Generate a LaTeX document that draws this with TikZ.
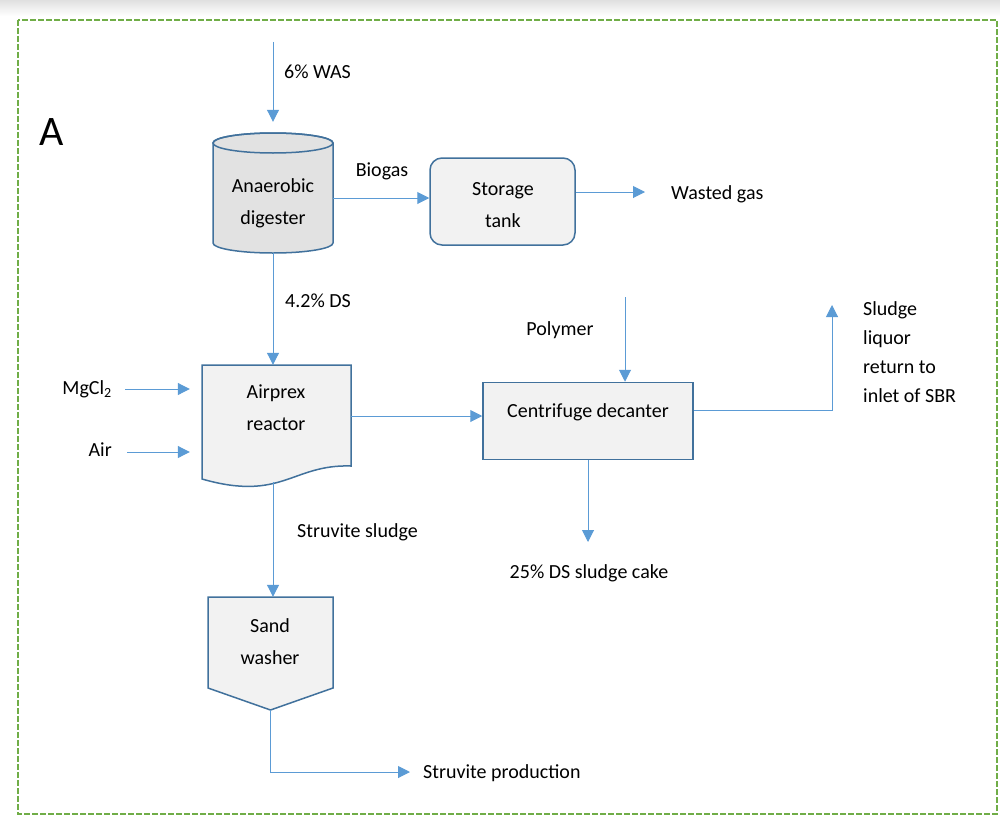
\documentclass[tikz,border=0pt]{standalone}
\usepackage{fontspec}
\setmainfont{Carlito}
\usetikzlibrary{arrows.meta}
\definecolor{flow}{HTML}{5B9BD5}
\definecolor{edge}{HTML}{41719C}
\definecolor{boxfill}{HTML}{F2F2F2}
\definecolor{cylfill}{HTML}{E2E2E2}
\definecolor{frame}{HTML}{70AD47}
\begin{document}
\begin{tikzpicture}[x=1pt,y=-1pt,
  flowline/.style={draw=flow,line width=1pt,-{Triangle[length=12pt,width=12pt]}},
  unit/.style={draw=edge,fill=boxfill,line width=1.5pt},
  hull/.style={inner sep=0pt,draw=none},
  boxtext/.style={inner sep=0pt,align=center,font=\fontsize{20}{32}\selectfont},
  lbl/.style={inner sep=0pt,font=\fontsize{20}{29}\selectfont}]
\useasboundingbox (0,0) rectangle (1000,816);
% soft top edge and outer frame
\shade[top color=black!12,bottom color=white] (0,0) rectangle (1000,16);
\draw[frame,line width=1.2pt,dash pattern=on 6pt off 2pt] (18,20) rectangle (997,814);
\node[anchor=base west,inner sep=0pt,font=\fontsize{42}{42}\selectfont] (tag) at (39,145) {A};

% process units (outlines drawn separately, named hulls carry the anchors)
\node[hull,minimum width=120pt,minimum height=120pt] (dig) at (273,193) {};
\fill[cylfill,draw=edge,line width=1.5pt] (213,143) -- (213,243)
   arc[start angle=180,end angle=0,x radius=60,y radius=10] -- (333,143)
   arc[start angle=0,end angle=-180,x radius=60,y radius=10] -- cycle;
\draw[edge,line width=1.5pt] (273,143) ellipse[x radius=60,y radius=10];
\node[boxtext] (digtxt) at (273,203) {Anaerobic\\digester};

\node[unit,rounded corners=12pt,minimum width=145pt,minimum height=87pt] (tank) at (502.5,201.5) {};
\node[boxtext] (tanktxt) at (503,205) {Storage\\tank};

\node[hull,minimum width=149pt,minimum height=101pt] (air) at (276.5,415.5) {};
\filldraw[unit] (202,365) -- (351,365) -- (351,466)
   .. controls (292,464) and (282,502) .. (202,479) -- cycle;
\node[boxtext] (airtxt) at (276,408) {Airprex\\reactor};

\node[unit,minimum width=210pt,minimum height=77pt] (cd) at (588,421) {};
\node[boxtext] (cdtxt) at (588,412) {Centrifuge decanter};

\node[hull,minimum width=125pt,minimum height=113pt] (sw) at (270.5,653.5) {};
\filldraw[unit] (208,597) -- (333,597) -- (333,688) -- (270.5,710) -- (208,688) -- cycle;
\node[boxtext] (swtxt) at (270,642) {Sand\\washer};

% stream labels
\node[lbl,anchor=west] (was) at (284,72) {6\% WAS};
\node[lbl] (bio) at (382,171) {Biogas};
\node[lbl,anchor=west] (wg) at (671,194) {Wasted gas};
\node[lbl,anchor=west] (ds) at (285,301) {4.2\% DS};
\node[lbl] (pol) at (560,330) {Polymer};
\node[lbl,anchor=east] (mg) at (112,389) {MgCl\textsubscript{2}};
\node[lbl,anchor=east] (airin) at (112,450) {Air};
\node[lbl,anchor=north west,align=left] (liq) at (863,301) {Sludge\\liquor\\return to\\inlet of SBR};
\node[lbl,anchor=west] (ss) at (297,532) {Struvite sludge};
\node[lbl] (cake) at (589,573) {25\% DS sludge cake};
\node[lbl,anchor=west] (sp) at (423,773) {Struvite production};

% free ends of feed lines
\coordinate (wasin) at (273,42);
\coordinate (polin) at (625,297);
\coordinate (liqout) at (832,305);

% flows
\draw[flowline,shorten >=11pt] (wasin) -- (dig.north);
\draw[flowline] (dig.east |- 0,198) -- (tank.west |- 0,198);
\draw[flowline] (tank.east |- 0,192) -- ([xshift=-26pt]wg.west |- 0,192);
\draw[flowline] (dig.south) -- (dig.south |- air.north);
\draw[flowline,shorten >=12pt] (mg.east -| 125,0) -- (mg.east -| air.west);
\draw[flowline,shorten >=12pt] (127,452) -- (air.west |- 0,452);
\draw[flowline] (air.east |- 0,416) -- (cd.west |- 0,416);
\draw[flowline] (polin) -- (polin |- cd.north);
\draw[flowline] (cd.east |- 0,410) -| (liqout);
\draw[flowline] (cd.south) -- (588,542);
\draw[flowline] (273,482) -- (sw.north -| 273,0);
\draw[flowline] (sw.south) |- ([xshift=-13pt]sp.west |- 0,772);
\end{tikzpicture}
\end{document}
